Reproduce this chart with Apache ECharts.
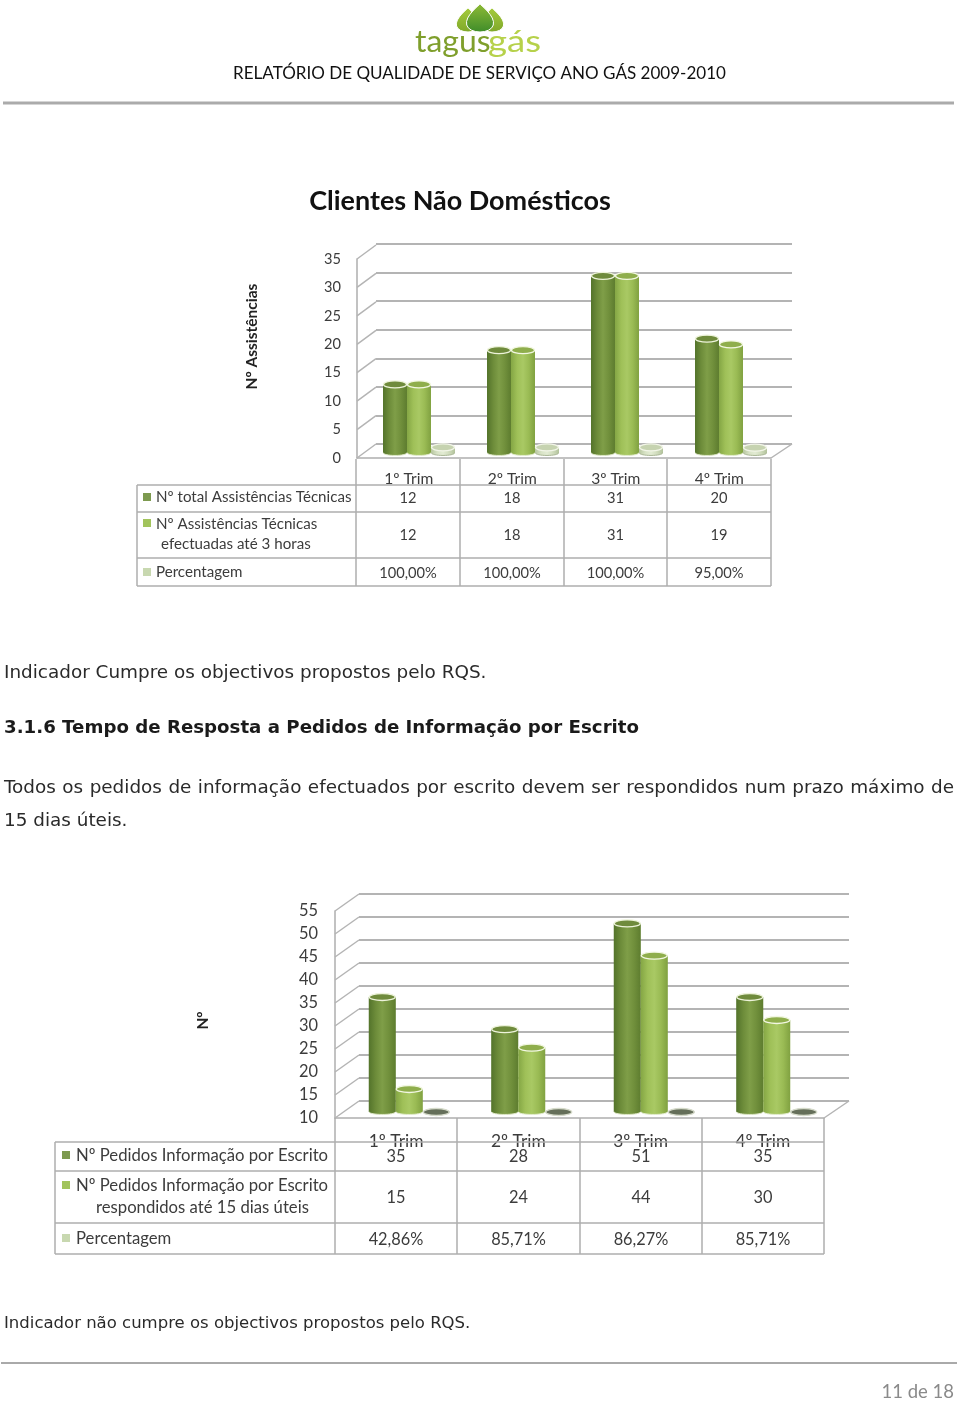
<!DOCTYPE html>
<html><head><meta charset="utf-8">
<style>html,body{margin:0;padding:0;background:#fff}#c{width:960px;height:1401px}</style>
<script src="https://cdn.jsdelivr.net/npm/echarts@6/dist/echarts.min.js"></script>
</head><body><div id="c"></div>
<script>
const quarters = ['1º Trim','2º Trim','3º Trim','4º Trim'];
// first chart
const ticksA = [0,5,10,15,20,25,30,35];
const totalA = [12,18,31,20];
const within3h = [12,18,31,19];
const pctA = [1,1,1,0.95];
const pctLabelsA = ['100,00%','100,00%','100,00%','95,00%'];
// second chart
const ticksB = [10,15,20,25,30,35,40,45,50,55];
const totalB = [35,28,51,35];
const within15d = [15,24,44,30];
const pctB = [0.4286,0.8571,0.8627,0.8571];
const pctLabelsB = ['42,86%','85,71%','86,27%','85,71%'];

const LATO = 'Lato, Carlito, sans-serif', DV = '"DejaVu Sans", Verdana, sans-serif';
const GRID = '#b4b4b4', TXT = '#3c3c3c';
const g = [];
const T = (x,y,text,size,font,o={}) => g.push({type:'text',x,y,z:20,scaleX:o.sx||1,originX:0,style:{text,fontFamily:font,fontSize:size,fontWeight:o.w||'normal',fill:o.c||TXT,align:o.a||'left',verticalAlign:'middle'}});
const L = (x1,y1,x2,y2,c='#aeaeae',w=1.5) => g.push({type:'line',z:15,shape:{x1,y1,x2,y2},style:{stroke:c,lineWidth:w}});
const S = (x,y,c,s=8) => g.push({type:'rect',z:20,shape:{x:x,y:y-s/2,width:s,height:s},style:{fill:c}});

// page furniture
L(3,103,954,103,'#ababab',3);
L(1,1363,957,1363,'#555',1);
T(479.5,73,'RELATÓRIO DE QUALIDADE DE SERVIÇO ANO GÁS 2009-2010',18,LATO,{a:'center',c:'#111',sx:0.946});
T(460,201,'Clientes Não Domésticos',27.5,LATO,{a:'center',w:'bold',c:'#111',sx:0.98});
T(4,673,'Indicador Cumpre os objectivos propostos pelo RQS.',18.4,DV,{c:'#2a2a2a'});
T(4,728,'3.1.6 Tempo de Resposta a Pedidos de Informação por Escrito',18.2,DV,{w:'bold',c:'#1a1a1a'});
T(4,821,'15 dias úteis.',18.4,DV,{c:'#2a2a2a'});
T(4,1324,'Indicador não cumpre os objectivos propostos pelo RQS.',16.5,DV,{c:'#2a2a2a'});
T(954,1392,'11 de 18',18.5,LATO,{a:'right',c:'#8a8a8a'});

// justified first line of the paragraph
const lineWords = 'Todos os pedidos de informação efectuados por escrito devem ser respondidos num prazo máximo de'.split(' ');
{
  const ctx = document.createElement('canvas').getContext('2d');
  ctx.font = '18.4px ' + DV;
  const ws = lineWords.map(w => ctx.measureText(w).width);
  const gap = (950 - ws.reduce((a,b)=>a+b,0)) / (lineWords.length-1);
  let x = 4;
  lineWords.forEach((w,i)=>{T(x,788,w,18.4,DV,{c:'#2a2a2a'}); x += ws[i]+gap;});
}

// logo: three drop-shaped leaves and the word mark
const drop = (cx,top,w,h,c1,c2) => {
  const pts = [];
  for (let i = 0; i < 24; i++) {
    const a = i / 24 * Math.PI * 2;
    const sy = (1 - Math.cos(a)) / 2;
    const sx = Math.sin(a) * Math.pow(Math.sin(a / 2), 1.1);
    pts.push([cx + sx * w * 0.62, top + sy * h]);
  }
  g.push({type:'polygon',z:10,shape:{points:pts},style:{fill:{type:'linear',x:0,y:0,x2:0,y2:1,colorStops:[{offset:0,color:c1},{offset:1,color:c2}]},stroke:'#fff',lineWidth:1}});
};
drop(468,8,25,24,'#a5cb3c','#7fa82a');
drop(492,8,25,24,'#a5cb3c','#7fa82a');
drop(480,4,29,28,'#8fbb36','#3e8c2a');
g.push({type:'text',x:415,y:42,z:10,scaleX:1.03,style:{text:'tagus',fontFamily:'Lato, sans-serif',fontSize:31,fontWeight:400,fill:'#7f9f2c',verticalAlign:'middle',align:'left'}});
g.push({type:'text',x:488,y:42,z:10,scaleX:1.18,style:{text:'gás',fontFamily:'Lato, sans-serif',fontSize:31,fontWeight:400,fill:'#b6d14a',verticalAlign:'middle',align:'left'}});

// data tables
function table(xs, hs, top, leftRows, vals, valYs, size, swX, colors, sLabel){
  hs.forEach(y=>L(xs[0],y,xs[xs.length-1],y));
  L(xs[0],hs[0],xs[0],hs[hs.length-1]);
  xs.slice(1).forEach(x=>L(x,top,x,hs[hs.length-1]));
  leftRows.forEach(r=>T(r[0],r[1],r[2],size,LATO,{sx:sLabel}));
  vals.forEach((row,j)=>row.forEach((v,i)=>T((xs[i+1]+xs[i+2])/2,valYs[j],String(v),size,LATO,{a:'center',sx:0.94})));
  colors.forEach(c=>S(swX,c[0],c[1]));
}
table([137,356,460,564,667,771],[485,512,558,586],459,
  [[156,497,'Nº total Assistências Técnicas'],[156,524,'Nº Assistências Técnicas'],[161,544,'efectuadas até 3 horas'],[156,572,'Percentagem']],
  [totalA,within3h,pctLabelsA],[498,535,573],15.6,143,[[497,'#7d9a4f'],[523,'#a2c45c'],[572,'#c8d8b0']],0.97);
table([55,335,457,580,702,824],[1142,1171,1223,1254],1118,
  [[76,1155,'Nº Pedidos Informação por Escrito'],[76,1185,'Nº Pedidos Informação por Escrito'],[96,1207,'respondidos até 15 dias úteis'],[76,1238,'Percentagem']],
  [totalB,within15d,pctLabelsB],[1156,1197,1239],17.4,62,[[1155,'#7d9a4f'],[1185,'#a2c45c'],[1238,'#c8d8b0']],0.96);

const grad = s => ({type:'linear',x:0,y:0,x2:1,y2:0,colorStops:s.map((c,i)=>({offset:i/(s.length-1),color:c}))});
const DARK = ['#55752c','#6d8c3a','#7f9e48','#71903c','#5f7e30'];
const LIGHT = ['#86a846','#9fc058','#a9c964','#9abb54','#82a342'];
const PALE = ['#b9c8a2','#d8e3c6','#e2ebd3','#d0dcbd','#b4c49d'];
const SLATE = ['#55604a','#6a7460','#707a66','#636d58','#4f5a44'];

function chart(o){
  const base = o.gridIndex;
  const grids = [
    {left:o.front[0],top:o.front[1],width:o.front[2]-o.front[0],height:o.front[3]-o.front[1]},
    {left:o.back[0],top:o.back[1],width:o.back[2]-o.back[0],height:o.back[3]-o.back[1]},
    {left:o.bars[0],top:o.bars[1],width:o.bars[2]-o.bars[0],height:o.bars[3]-o.bars[1]}
  ];
  const xAxis = [
    {gridIndex:base,type:'category',data:quarters,axisLine:{lineStyle:{color:'#aeaeae',width:1.5}},axisTick:{show:false},axisLabel:{color:TXT,fontFamily:LATO,fontSize:o.size,margin:o.xMargin,interval:0}},
    {gridIndex:base+1,type:'category',data:quarters,show:false},
    {gridIndex:base+2,type:'category',data:quarters,show:false}
  ];
  const yBase = {type:'value',min:o.min,max:o.max,interval:5};
  const yAxis = [
    {...yBase,gridIndex:base,name:o.yName,nameLocation:'middle',nameRotate:90,nameGap:o.nameGap,nameTextStyle:{color:'#222',fontFamily:LATO,fontSize:15.5,fontWeight:'bold',padding:o.namePad},
     axisLine:{show:true,lineStyle:{color:'#aeaeae',width:1.5}},axisTick:{show:false},splitLine:{show:false},axisLabel:{color:TXT,fontFamily:LATO,fontSize:o.ySize,margin:o.yMargin,padding:o.yPad}},
    {...yBase,gridIndex:base+1,axisLine:{show:false},axisTick:{show:false},axisLabel:{show:false},splitLine:{lineStyle:{color:GRID,width:2}}},
    {...yBase,gridIndex:base+2,show:false}
  ];
  const series = [];
  // side wall and floor edges
  const wallData = o.ticks.map(v=>[0,v]).concat([[1,o.min]]);
  series.push({type:'custom',xAxisIndex:base,yAxisIndex:base,z:1,silent:true,data:wallData,encode:{y:1},clip:false,
    renderItem:(p,api)=>{
      const side=api.value(0), c=p.coordSys, y=api.coord([0,api.value(1)])[1], x=side?c.x+c.width:c.x;
      const dx=side?o.back[2]-o.front[2]:o.back[0]-o.front[0], dy=o.back[3]-o.front[3];
      return {type:'line',shape:{x1:x,y1:y,x2:x+dx,y2:y+dy},style:{stroke:GRID,lineWidth:1.5}};
    }});
  o.vals.forEach((vals,s)=>{
    const pal=o.pals[s];
    series.push({type:'bar',name:o.names[s],xAxisIndex:base+2,yAxisIndex:base+2,data:vals,barWidth:o.barW,barGap:0,z:3,silent:true,itemStyle:{color:grad(pal.body)}});
    series.push({type:'custom',xAxisIndex:base+2,yAxisIndex:base+2,z:4,silent:true,clip:false,
      data:vals.map((v,i)=>[i,Math.max(v,o.min)]),encode:{x:0,y:1},
      renderItem:(p,api)=>{
        const top=api.coord([api.value(0),api.value(1)]), bot=api.coord([api.value(0),o.min]);
        const cx=top[0]+(s-1)*o.barW, rx=o.barW/2-0.5, ry=o.capH/2;
        const kids=[];
        kids.push({type:'ellipse',shape:{cx,cy:bot[1],rx,ry:ry*0.7},style:{fill:grad(pal.body),stroke:pal.base,lineWidth:1}});
        if(top[1]<bot[1]-2) kids.push({type:'rect',shape:{x:cx-rx,y:top[1],width:rx*2,height:bot[1]-top[1]},style:{fill:grad(pal.body)}});
        kids.push({type:'ellipse',shape:{cx,cy:top[1],rx,ry},style:{fill:pal.cap,stroke:pal.rim,lineWidth:1.3}});
        return {type:'group',children:kids};
      }});
  });
  return {grids,xAxis,yAxis,series};
}
const palD={body:DARK,cap:'#6f8b3c',rim:'#edf3da',base:'#dfe8c8'};
const palL={body:LIGHT,cap:'#8fae4c',rim:'#f2f7e2',base:'#e4edcf'};
const A=chart({gridIndex:0,front:[357,259,771,458],back:[376,244,792,444],bars:[367,253,783,453],min:0,max:35,ticks:ticksA,
  vals:[totalA,within3h,pctA],names:['Nº total Assistências Técnicas','Nº Assistências Técnicas efectuadas até 3 horas','Percentagem'],
  pals:[palD,palL,{body:PALE,cap:'#c6d3b0',rim:'#f2f5e8',base:'#a9b695'}],
  barW:24,capH:7,size:15.6,ySize:14.6,xMargin:13,yMargin:16,yPad:[0,0,2,0],yName:'Nº Assistências',nameGap:97,namePad:[0,0,0,44]});
const B=chart({gridIndex:3,front:[335,911,824,1118],back:[359,894,849,1101],bars:[348,905,838,1112],min:10,max:55,ticks:ticksB,
  vals:[totalB,within15d,pctB],names:['Nº Pedidos Informação por Escrito','Nº Pedidos Informação por Escrito respondidos até 15 dias úteis','Percentagem'],
  pals:[palD,palL,{body:SLATE,cap:'#656f5a',rim:'#d6dbcb',base:'#c2c8b6'}],
  barW:27,capH:7,size:17.4,ySize:16.4,xMargin:15,yMargin:17,yPad:[0,0,3,0],yName:'Nº',nameGap:124,namePad:[0,12,0,0]});

const chartInst=echarts.init(document.getElementById('c'),null,{renderer:'canvas'});
chartInst.setOption({
  animation:false,backgroundColor:'#fff',
  grid:[...A.grids,...B.grids],xAxis:[...A.xAxis,...B.xAxis],yAxis:[...A.yAxis,...B.yAxis],
  series:[...A.series,...B.series],graphic:{elements:g}
});
</script></body></html>
